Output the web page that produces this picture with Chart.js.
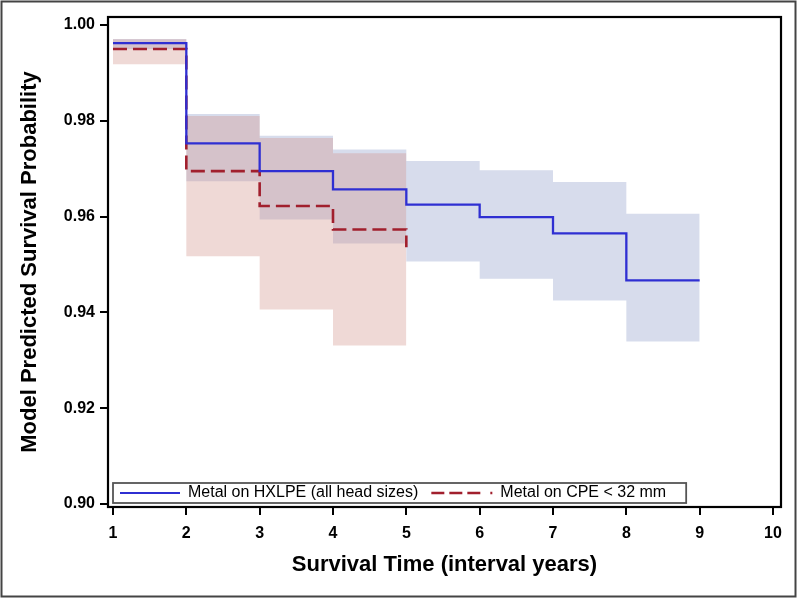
<!DOCTYPE html>
<html>
<head>
<meta charset="utf-8">
<script src="https://cdn.jsdelivr.net/npm/chart.js@4"></script>
<style>
  html, body { margin: 0; padding: 0; background: #fff; }
  canvas { display: block; }
</style>
</head>
<body>
<canvas id="surv" width="797" height="598"></canvas>
<script>
// Model predicted survival, step curves with confidence bands

const xTickValues = [1, 2, 3, 4, 5, 6, 7, 8, 9, 10];
const yTickValues = [0.90, 0.92, 0.94, 0.96, 0.98, 1.00];

// Metal on HXLPE (all head sizes)
const hxlpeYears = [1, 2, 3, 4, 5, 6, 7, 8, 9];
const hxlpeSurv  = [0.9962, 0.9753, 0.9695, 0.9657, 0.9625, 0.9599, 0.9565, 0.9467, 0.9467];
const hxlpeUpper = [0.9971, 0.9814, 0.9769, 0.9740, 0.9716, 0.9697, 0.9672, 0.9606, 0.9606];
const hxlpeLower = [0.9950, 0.9674, 0.9594, 0.9544, 0.9506, 0.9470, 0.9425, 0.9339, 0.9339];

// Metal on CPE < 32 mm
const cpeYears = [1, 2, 3, 4, 5];
const cpeSurv  = [0.9950, 0.9695, 0.9622, 0.9573, 0.9536];
const cpeUpper = [0.9970, 0.9810, 0.9764, 0.9732, 0.9732];
const cpeLower = [0.9918, 0.9517, 0.9406, 0.9331, 0.9331];

const legendLabels = ['Metal on HXLPE (all head sizes)', 'Metal on CPE < 32 mm'];

const BLUE = '#2f2fd2';
const RED = '#a11f2d';
const FONT = '"Liberation Sans", Arial, sans-serif';

// each value holds until the next year, so a step is horizontal first
const pts = (xs, ys) => xs.map((x, i) => ({ x, y: ys[i] }));

const band = (xs, ys, fill, color) => ({
  data: pts(xs, ys),
  stepped: true,
  borderWidth: 0,
  borderColor: 'rgba(0,0,0,0)',
  backgroundColor: color,
  pointRadius: 0,
  fill,
});

// white page, outer border, plot frame
const framePlugin = {
  id: 'frame',
  beforeDraw(chart) {
    const ctx = chart.ctx;
    ctx.save();
    ctx.fillStyle = '#fff';
    ctx.fillRect(0, 0, chart.width, chart.height);
    ctx.strokeStyle = '#444';
    ctx.lineWidth = 2;
    ctx.strokeRect(1.5, 1.5, chart.width - 3, chart.height - 3);
    ctx.restore();
  },
  afterDatasetsDraw(chart) {
    const { ctx, chartArea: a } = chart;
    ctx.save();
    ctx.strokeStyle = '#000';
    ctx.lineWidth = 2.2;
    ctx.strokeRect(a.left, a.top, a.right - a.left, a.bottom - a.top);
    ctx.restore();
  },
};

// legend box sitting inside the plot, bottom left
const boxLegend = {
  id: 'boxLegend',
  afterDraw(chart) {
    const { ctx, chartArea: a } = chart;
    const left = a.left + 5, top = a.bottom - 24, h = 20;
    const midY = top + h / 2;
    ctx.save();
    ctx.font = '16px ' + FONT;
    ctx.textBaseline = 'middle';
    ctx.fillStyle = '#000';

    let x = left + 7;
    ctx.strokeStyle = BLUE;
    ctx.lineWidth = 2;
    ctx.beginPath(); ctx.moveTo(x, midY); ctx.lineTo(x + 60, midY); ctx.stroke();
    x += 68;
    ctx.fillText(legendLabels[0], x, midY);
    x += ctx.measureText(legendLabels[0]).width + 13;

    ctx.strokeStyle = RED;
    ctx.lineWidth = 2.5;
    ctx.setLineDash([13, 5, 13, 5, 13, 10, 2, 100]);
    ctx.beginPath(); ctx.moveTo(x, midY); ctx.lineTo(x + 61, midY); ctx.stroke();
    ctx.setLineDash([]);
    x += 69;
    ctx.fillText(legendLabels[1], x, midY);
    x += ctx.measureText(legendLabels[1]).width + 20;

    ctx.strokeStyle = '#555';
    ctx.lineWidth = 1.8;
    ctx.strokeRect(left, top, x - left, h);
    ctx.restore();
  },
};

new Chart(document.getElementById('surv'), {
  type: 'line',
  data: {
    datasets: [
      { label: legendLabels[0], data: pts(hxlpeYears, hxlpeSurv), stepped: true,
        borderColor: BLUE, borderWidth: 2.3, pointRadius: 0, fill: false },
      { label: legendLabels[1], data: pts(cpeYears, cpeSurv), stepped: true,
        borderColor: RED, borderWidth: 2.6, borderDash: [14, 6], pointRadius: 0, fill: false },
      band(cpeYears, cpeUpper, '+1', 'rgba(212,150,140,0.36)'),
      band(cpeYears, cpeLower, false, 'rgba(0,0,0,0)'),
      band(hxlpeYears, hxlpeUpper, '+1', 'rgba(141,155,201,0.35)'),
      band(hxlpeYears, hxlpeLower, false, 'rgba(0,0,0,0)'),
    ],
  },
  options: {
    responsive: false,
    animation: false,
    layout: { padding: { left: 4, top: 17, right: 16, bottom: 4 } },
    plugins: {
      legend: { display: false },
      tooltip: { enabled: false },
    },
    scales: {
      x: {
        type: 'linear',
        min: 0.932,
        max: 10.109,
        afterBuildTicks: s => { s.ticks = xTickValues.map(v => ({ value: v })); },
        afterFit: s => { s.height = 87; },
        grid: { drawOnChartArea: false, color: '#000', lineWidth: 2, tickLength: 8 },
        border: { display: false },
        ticks: { color: '#000', font: { family: FONT, size: 16, weight: 'bold' }, padding: 9,
                 maxRotation: 0, callback: v => String(v) },
        title: { display: true, text: 'Survival Time (interval years)', color: '#000',
                 font: { family: FONT, size: 22, weight: 'bold' }, padding: { top: 0, bottom: 16 } },
      },
      y: {
        min: 0.89937,
        max: 1.00167,
        afterBuildTicks: s => { s.ticks = yTickValues.map(v => ({ value: v })); },
        afterFit: s => { s.width = 104; },
        grid: { drawOnChartArea: false, color: '#000', lineWidth: 2, tickLength: 8 },
        border: { display: false },
        ticks: { color: '#000', font: { family: FONT, size: 16, weight: 'bold' }, padding: 5,
                 callback: v => v.toFixed(2) },
        title: { display: true, text: 'Model Predicted Survival Probability', color: '#000',
                 font: { family: FONT, size: 22, weight: 'bold' }, padding: { top: 13, bottom: 0 } },
      },
    },
  },
  plugins: [framePlugin, boxLegend],
});
</script>
</body>
</html>
